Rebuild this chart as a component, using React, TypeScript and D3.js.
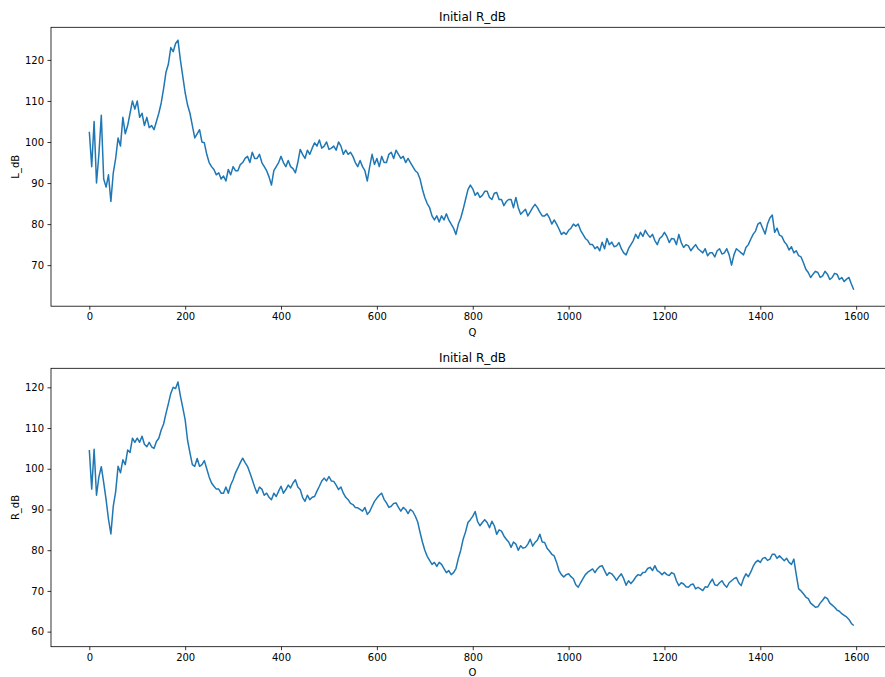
import React, { useRef, useEffect } from 'react';
import * as d3 from 'd3';

// sampled every 5 steps along Q / O (0..1595)
const STEP = 5;

const leftDb = [
  102.5, 94, 105, 90, 97, 106.5, 91, 89, 92, 85.5, 92.5, 96, 101, 99, 106, 102, 104, 107, 110, 108,
  110, 106, 107, 104, 106, 103.5, 104, 103, 105, 107, 109.5, 113, 117, 119, 123, 122, 124, 124.8, 120, 116,
  112, 109, 107, 104, 101, 102, 103, 100, 99.8, 97, 95, 94, 93.3, 92, 92.5, 91, 91.7, 90.5, 93.3, 92,
  94, 93, 93, 94.5, 95, 96, 96.5, 95, 97.5, 96, 96, 97, 95, 94, 93, 91.5, 89.5, 93, 94, 95,
  96.5, 95, 94, 95.5, 94, 93.5, 92.5, 95, 98.2, 97, 96, 98, 97, 98.5, 99.8, 99, 100.5, 98.5, 99, 100,
  98.2, 98.5, 99, 98, 100, 99, 97, 98, 97, 97.5, 96.5, 95, 94, 95.5, 94, 93, 90.5, 94, 97, 94.5,
  96, 94, 96.5, 95, 95, 97, 97.5, 96, 98, 97, 96, 96.5, 95, 96, 95, 94, 93, 92.5, 91, 88.5,
  86.5, 85, 84, 82, 81, 82, 80.5, 82, 81, 82.5, 81, 80, 79, 77.5, 80, 81.5, 83.6, 86, 88.4, 89.5,
  88.6, 87, 87.7, 86.5, 87, 88, 88, 86.5, 86, 87.5, 87.7, 86, 86, 84.5, 85.5, 86, 86, 84, 86.5, 84,
  82.4, 83, 83.6, 82, 83, 84, 84.8, 84, 82.9, 82, 82, 82.5, 81.5, 80, 81, 80, 78.8, 77.5, 78, 77.5,
  78.5, 79, 80, 79.5, 80, 78.5, 77.5, 76.5, 76, 75, 75, 74, 74.5, 73.5, 75.6, 74, 76.5, 75, 75.6, 74.5,
  74.7, 75.5, 74, 73, 72.5, 74, 75, 76, 77.5, 76.5, 78, 77, 78.5, 77.5, 76.8, 77.5, 76, 75, 76.5, 77,
  78, 77, 75.5, 76.5, 76.4, 75, 77.5, 75.5, 74.3, 75, 74.7, 73.5, 74.3, 75, 74, 73.5, 73, 74, 72.3, 73,
  73, 72, 73.5, 74, 72.7, 73, 74, 72.5, 70, 72.5, 74, 73.5, 73, 72.5, 74.3, 75, 76.3, 77.5, 78.3, 80,
  80.4, 79, 77.6, 80, 81.5, 82.2, 78, 79, 77.3, 77, 75.7, 75, 73.7, 74.5, 73, 73.5, 72.3, 72, 70.6, 69,
  68.2, 67, 67.8, 68.5, 68.2, 67, 67.4, 68.5, 67.8, 66.5, 67, 68, 67.8, 66.5, 67, 66, 66.6, 67, 65.4, 64,
];

const rightDb = [
  104.6, 95, 104.8, 93.5, 98, 100.5, 96.6, 92.4, 87.6, 84, 90.8, 94.4, 100.6, 99, 102.2, 101, 104.6, 104, 107.5, 106.5,
  107.5, 106.5, 108, 106, 105.4, 106.5, 105.4, 105, 106.7, 107.5, 109.5, 111, 113.6, 116, 118.5, 120, 119.7, 121.3, 117.9, 115,
  112, 107, 103.9, 101, 100.6, 102.5, 100.6, 101, 102, 100, 98, 96.5, 95.7, 95, 95, 94, 94, 95.5, 94, 96,
  97.3, 99, 100.2, 101.5, 102.6, 101.5, 100.6, 99, 97.3, 95.5, 94, 95.5, 95, 93.5, 94, 93, 92.4, 94, 93.2, 94.5,
  95.7, 94, 94.9, 96, 95.3, 96.5, 97.3, 95.5, 94.9, 93, 92, 93.5, 92.4, 93, 93.2, 94.5, 95.7, 97, 97.7, 97,
  98.1, 97, 96.9, 96, 94.9, 95.5, 94, 93, 92.4, 91.5, 91.2, 90.5, 90.4, 90, 89.6, 90.5, 88.8, 89.5, 90.8, 92,
  92.8, 93.5, 94, 92.5, 91.6, 90.5, 90.8, 91.5, 91.6, 90.5, 89.6, 90.5, 90, 89, 90, 89.5, 88.4, 87, 84.4, 82,
  80, 78.5, 77.5, 76.5, 77, 76, 77, 76.5, 75.5, 74.5, 75, 74, 74.5, 75.5, 78, 80, 82.7, 84.5, 86.8, 87.5,
  88.3, 89.5, 87.1, 86, 86.8, 87.5, 86.8, 85.5, 87.1, 86, 83.9, 85, 84.7, 83.5, 82.7, 82, 80.7, 82, 81.5, 80,
  81.1, 80.5, 80.7, 81.5, 82.7, 81, 81.9, 82.5, 83.9, 82, 81.9, 80.5, 79.8, 79, 78.6, 77, 75, 74, 73.4, 74,
  74.2, 73.5, 73, 71.5, 70.9, 72, 73, 74, 74.6, 75, 75.4, 74.5, 75.4, 76, 76.2, 75, 73.8, 74.5, 74.2, 73.5,
  72.6, 73.5, 74.2, 73, 71.4, 72.5, 71.8, 72.5, 73.4, 74, 73.8, 74.5, 74.6, 75.5, 75.8, 75, 76.2, 75, 74.6, 74,
  74.6, 74, 73.8, 74.5, 74.2, 72.5, 71.3, 72, 71.7, 71, 70.9, 71.5, 71.7, 70.5, 70.9, 70.5, 70.1, 71, 70.9, 72,
  72.9, 71.5, 71.3, 72, 72.5, 71.5, 70.9, 72, 72.5, 73, 73.3, 72, 71.3, 73, 74.2, 73.5, 74.6, 76, 77, 77.5,
  77, 78, 78.2, 77.5, 77.8, 79, 79, 78, 78.6, 78, 77.4, 78, 77, 76.5, 77.8, 74, 70.5, 70, 69.3, 68.5,
  68.1, 67, 66.5, 66, 66.1, 67, 67.7, 68.5, 68.1, 67, 66.5, 66, 65.3, 65, 64.4, 64, 63.6, 63, 62, 61.5,
];

const xTicks = [0, 200, 400, 600, 800, 1000, 1200, 1400, 1600];
const leftTicks = [70, 80, 90, 100, 110, 120];
const rightTicks = [60, 70, 80, 90, 100, 110, 120];

const panels = [
  { title: 'Initial R_dB', xLabel: 'Q', yLabel: 'L_dB', values: leftDb, yTicks: leftTicks, yDomain: [60.0, 127.94], top: 27.3, bottom: 306.2 },
  { title: 'Initial R_dB', xLabel: 'O', yLabel: 'R_dB', values: rightDb, yTicks: rightTicks, yDomain: [56.3, 124.67], top: 368.3, bottom: 646.7 },
];

const App = () => {
  const chartRef = useRef(null);

  useEffect(() => {
    const svg = d3.select(chartRef.current).html('');
    const left = 51;
    const right = 894;
    const font = 'DejaVu Sans, sans-serif';

    const xScale = d3.scaleLinear().domain([-79.95, 1678.95]).range([left, right]);

    panels.forEach((p) => {
      const yScale = d3.scaleLinear().domain(p.yDomain).range([p.bottom, p.top]);
      const g = svg.append('g');

      const line = d3.line()
        .x((d, i) => xScale(i * STEP))
        .y(d => yScale(d));

      g.append('path')
        .datum(p.values)
        .attr('fill', 'none')
        .attr('stroke', '#1f77b4')
        .attr('stroke-width', 1.5)
        .attr('stroke-linejoin', 'round')
        .attr('d', line);

      // x axis
      const xAxis = g.append('g')
        .attr('transform', `translate(0,${p.bottom})`)
        .call(d3.axisBottom(xScale).tickValues(xTicks).tickSize(3.5).tickPadding(3.5).tickFormat(d3.format('d')));
      xAxis.select('.domain').remove();

      // y axis
      const yAxis = g.append('g')
        .attr('transform', `translate(${left},0)`)
        .call(d3.axisLeft(yScale).tickValues(p.yTicks).tickSize(3.5).tickPadding(3.5));
      yAxis.select('.domain').remove();

      [xAxis, yAxis].forEach(ax => {
        ax.selectAll('text').attr('font-family', font).attr('font-size', 10).attr('fill', '#000');
        ax.selectAll('line').attr('stroke', '#000').attr('stroke-width', 0.8);
      });

      // spines
      g.append('rect')
        .attr('x', left)
        .attr('y', p.top)
        .attr('width', right - left)
        .attr('height', p.bottom - p.top)
        .attr('fill', 'none')
        .attr('stroke', '#000')
        .attr('stroke-width', 0.8);

      g.append('text')
        .attr('x', (left + right) / 2)
        .attr('y', p.top - 6)
        .attr('text-anchor', 'middle')
        .attr('font-family', font)
        .attr('font-size', 12)
        .text(p.title);

      g.append('text')
        .attr('x', (left + right) / 2)
        .attr('y', p.bottom + 29.5)
        .attr('text-anchor', 'middle')
        .attr('font-family', font)
        .attr('font-size', 10)
        .text(p.xLabel);

      g.append('text')
        .attr('transform', `translate(18.5,${(p.top + p.bottom) / 2}) rotate(-90)`)
        .attr('text-anchor', 'middle')
        .attr('font-family', font)
        .attr('font-size', 10)
        .text(p.yLabel);
    });
  }, []);

  return (
    <svg
      ref={chartRef}
      width={885}
      height={677}
      style={{ position: 'absolute', left: 0, top: 0, background: '#fff' }}
    ></svg>
  );
};

export default App;
